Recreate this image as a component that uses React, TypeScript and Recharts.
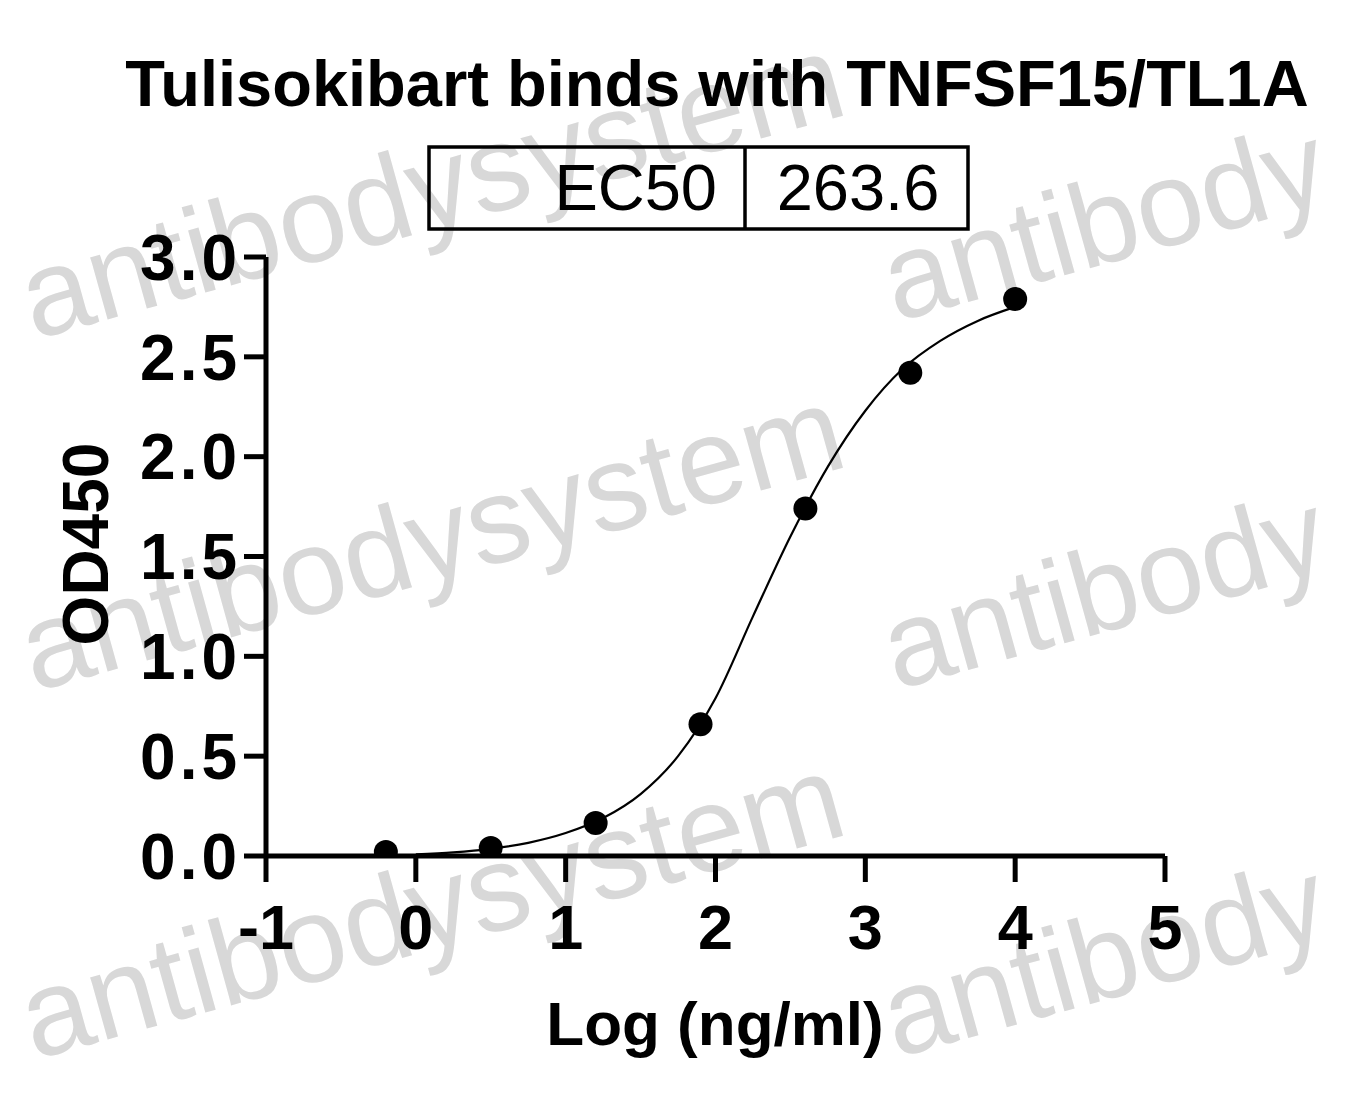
import React from 'react';
import { ComposedChart, Line, Scatter, XAxis, YAxis } from 'recharts';

// measured OD450 points (x = log concentration)
const pointX = [-0.2, 0.5, 1.2, 1.9, 2.6, 3.3, 4.0];
const pointOD = [0.02, 0.04, 0.165, 0.66, 1.74, 2.42, 2.79];

// fitted curve
const fitX = [0, 0.25, 0.5, 0.75, 1.0, 1.25, 1.5, 1.75, 2.0, 2.25, 2.5, 2.75, 3.0, 3.25, 3.5, 3.75, 4.0];
const fitOD = [0.008, 0.018, 0.036, 0.066, 0.115, 0.19, 0.31, 0.5, 0.79, 1.2, 1.6, 1.95, 2.23, 2.44, 2.58, 2.68, 2.75];

const xTicks = [-1, 0, 1, 2, 3, 4, 5];
const yTicks = [0, 0.5, 1, 1.5, 2, 2.5, 3];

const ec50Label = 'EC50';
const ec50Value = '263.6';

const FONT = '"Liberation Sans", Arial, Helvetica, sans-serif';

const points = pointX.map((x, i) => ({ x, y: pointOD[i] }));
const curve = fitX.map((x, i) => ({ x, y: fitOD[i] }));

// background watermark
const watermarkLeft = [[34, 340], [34, 692], [34, 1060]];
const watermarkRight = [[896, 322], [896, 690], [896, 1058]];

const Dot = (props: any) => <circle cx={props.cx} cy={props.cy} r={12} fill="#000" />;

export default function App() {
  const xTickStyle = { fontSize: 63, fontWeight: 'bold', fill: '#000', fontFamily: FONT };
  const yTickStyle = { ...xTickStyle, fontSize: 64, letterSpacing: 4 };
  return (
    <div style={{ position: 'absolute', left: 0, top: 0, width: 1358, height: 1104, background: '#fff' }}>
      <svg width={1358} height={1104} style={{ position: 'absolute', left: 0, top: 0 }} fontFamily={FONT}>
        {watermarkLeft.map(([x, y], i) => (
          <text key={'l' + i} x={x} y={y} transform={`rotate(-15.5 ${x} ${y})`} fontSize={122} fill="#d8d8d8">
            antibodysystem
          </text>
        ))}
        {watermarkRight.map(([x, y], i) => (
          <text key={'r' + i} x={x} y={y} transform={`rotate(-15.5 ${x} ${y})`} fontSize={120} fill="#d8d8d8">
            antibody
          </text>
        ))}
        <text x={717} y={106} textAnchor="middle" fontSize={65} fontWeight="bold" fill="#000">
          Tulisokibart binds with TNFSF15/TL1A
        </text>
        <rect x={429} y={147} width={539} height={82} fill="none" stroke="#000" strokeWidth={3.5} />
        <line x1={745} y1={147} x2={745} y2={229} stroke="#000" strokeWidth={3.5} />
        <text x={717} y={210} textAnchor="end" fontSize={65} fill="#000">{ec50Label}</text>
        <text x={858} y={210} textAnchor="middle" fontSize={65} fill="#000">{ec50Value}</text>
        <text x={715} y={1045} textAnchor="middle" fontSize={62} fontWeight="bold" fill="#000">
          Log (ng/ml)
        </text>
        <text transform="translate(108,544) rotate(-90)" textAnchor="middle" fontSize={64} fontWeight="bold" fill="#000">
          OD450
        </text>
      </svg>
      <div style={{ position: 'absolute', left: 0, top: 0 }}>
        <ComposedChart width={1358} height={1104} margin={{ top: 257, right: 193, left: 66, bottom: 48 }}>
          <XAxis
            type="number"
            dataKey="x"
            domain={[-1, 5]}
            ticks={xTicks}
            interval={0}
            allowDataOverflow
            height={200}
            tickSize={26}
            tickMargin={22}
            axisLine={{ stroke: '#000', strokeWidth: 5 }}
            tickLine={{ stroke: '#000', strokeWidth: 5 }}
            tick={xTickStyle}
          />
          <YAxis
            type="number"
            dataKey="y"
            domain={[0, 3]}
            ticks={yTicks}
            interval={0}
            allowDataOverflow
            width={200}
            tickSize={22}
            tickMargin={3}
            tickFormatter={(v: number) => v.toFixed(1)}
            axisLine={{ stroke: '#000', strokeWidth: 5 }}
            tickLine={{ stroke: '#000', strokeWidth: 5 }}
            tick={yTickStyle}
          />
          <Line
            data={curve}
            dataKey="y"
            type="monotone"
            stroke="#000"
            strokeWidth={2.2}
            dot={false}
            activeDot={false}
            isAnimationActive={false}
          />
          <Scatter data={points} dataKey="y" fill="#000" shape={Dot} isAnimationActive={false} />
        </ComposedChart>
      </div>
    </div>
  );
}
